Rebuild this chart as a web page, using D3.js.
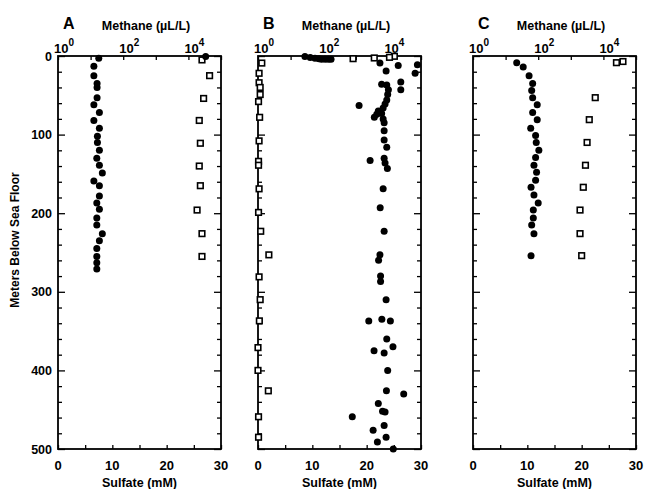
<!DOCTYPE html>
<html><head><meta charset="utf-8">
<script src="https://cdn.jsdelivr.net/npm/d3@7"></script>
<style>
body{margin:0;background:#fff}
svg{display:block}
text{font-family:"Liberation Sans",Arial,Helvetica,sans-serif;font-weight:bold;fill:#000}
</style>
</head><body>
<svg id="chart" width="645" height="489"></svg>
<script>
// ---------- tick labels / categories ----------
const panelLabels = ["A", "B", "C"];
const methaneTicks = [1, 10, 100, 1000, 10000, 100000];
const methaneLabelExponents = [0, 2, 4];
const sulfateTicks = [0, 5, 10, 15, 20, 25, 30];
const sulfateLabels = [0, 10, 20, 30];
const depthTicks = d3.range(0, 501, 20);
const depthLabels = [0, 100, 200, 300, 400, 500];
const methaneTitle = "Methane (\u00B5L/L)";
const sulfateTitle = "Sulfate (mM)";
const depthTitle = "Meters Below Sea Floor";

// ---------- data: [depth (mbsf), value] ----------
// methane in µL/L (filled circles, top log axis)
const methaneA = [[0.5,33900],[3,17.8],[13,12.6],[25,12.6],[35,15.8],[40,15.8],[53,15.8],[62,12.6],[72,18.6],[82,12.6],[92,18.6],[102,16.2],[110,16.2],[120,18.6],[130,15.5],[139,18.6],[149,22.9],[159,12.6],[165,18.6],[178,18.6],[187,15.5],[195,18.6],[206,15.5],[215,15.5],[226,22.9],[235,18.6],[245,15.5],[255,15.5],[263,15.5],[271,15.5]];
// sulfate in mM (open squares, bottom linear axis)
const sulfateA = [[5,26.5],[25,27.9],[54,26.8],[82,26.0],[111,26.2],[140,26.0],[165,26.2],[196,25.6],[226,26.5],[255,26.5]];

const methaneB = [[0.5,27.5],[2,40],[3,56],[3.5,74],[4,89],[4,115],[4,145],[4,174],
 [9,5500],[19,8500],[12,20000],[11,77600],[22,66000],[33,24000],[43,24000],[36,6200],[37,8900],[43,10000],[49,9500],[56,8900],[63,1260],[61,7900],[66,6900],[70,4900],[74,4400],[78,3700],[73,6200],[80,6900],[85,7400],[95,7400],[107,7400],[116,8900],[133,2750],[130,7400],[136,7900],[143,9300],[169,6900],[193,5600],[223,7400],[253,5500],[260,5000],[280,5750],[287,5750],[310,8500],[337,2500],[335,6300],[337,11500],[360,8900],[370,13800],[375,3630],[378,7400],[400,9500],[426,8700],[430,29500],[442,4900],[452,6600],[453,7900],[459,780],[470,7400],[476,3400],[485,8500],[491,4600],[500,14100]];
const sulfateB = [[0.4,25.1],[1.7,24.2],[2.5,21.4],[3.4,17.5],[9,0.7],[22,0.2],[34,0.2],[40,0.4],[49,0.4],[58,0.1],[78,0.3],[108,0.2],[134,0.1],[139,0.1],[169,0.2],[199,0.1],[223,0.5],[253,2.0],[281,0.2],[310,0.4],[337,0.25],[371,0],[400,0],[426,1.9],[459,0.1],[485,0.1]];

const methaneC = [[8.5,21.9],[14,34.7],[25,52.5],[35,67.6],[44,63.1],[53,67.6],[62,93.3],[72,67.6],[81,93.3],[92,58.9],[101,83.2],[110,87.1],[120,104.7],[129,83.2],[139,74.1],[148,89.1],[158,83.2],[167,60.3],[177,74.1],[187,100],[196,70.8],[206,70.8],[215,63.1],[226,74.1],[254,60.3]];
const sulfateC = [[8.5,26.4],[7,27.6],[53,22.5],[81,21.4],[110,21.0],[139,20.7],[167,20.3],[196,19.7],[226,19.7],[254,20.0]];

const methaneSeries = [methaneA, methaneB, methaneC];
const sulfateSeries = [sulfateA, sulfateB, sulfateC];

// ---------- layout ----------
const svg = d3.select("#chart");
const panelLeft = [58, 258, 473];
const pw = 163, plotTop = 56, ph = 393;

const y = d3.scaleLinear().domain([0, 500]).range([plotTop, plotTop + ph]);

panelLabels.forEach((lab, i) => {
  const L = panelLeft[i];
  const xm = d3.scaleLog().domain([1, 100000]).range([L, L + pw]);
  const xs = d3.scaleLinear().domain([0, 30]).range([L, L + pw]);
  const g = svg.append("g");

  const ta = g.append("g").attr("transform", `translate(0,${plotTop})`)
    .call(d3.axisTop(xm).tickValues(methaneTicks).tickSize(-4).tickFormat(""));
  const ba = g.append("g").attr("transform", `translate(0,${plotTop + ph})`)
    .call(d3.axisBottom(xs).tickValues(sulfateTicks).tickSize(-4).tickFormat(""));
  const la = g.append("g").attr("transform", `translate(${L},0)`)
    .call(d3.axisLeft(y).tickValues(depthTicks).tickSize(-4).tickFormat(""));
  const ra = g.append("g").attr("transform", `translate(${L + pw},0)`)
    .call(d3.axisRight(y).tickValues(depthTicks).tickSize(-4).tickFormat(""));
  la.selectAll(".tick line").attr("x2", d => d % 100 === 0 ? 7 : 4);
  ra.selectAll(".tick line").attr("x2", d => d % 100 === 0 ? -7 : -4);
  [ta, ba, la, ra].forEach(a => {
    a.select(".domain").remove();
    a.selectAll(".tick line").attr("stroke", "#000").attr("stroke-width", 1.3);
  });

  g.append("rect").attr("x", L).attr("y", plotTop).attr("width", pw).attr("height", ph)
    .attr("fill", "none").attr("stroke", "#000").attr("stroke-width", 1.8);

  methaneLabelExponents.forEach(e => {
    const t = g.append("text").attr("x", xm(Math.pow(10, e)) + 6).attr("y", 53)
      .attr("text-anchor", "middle").attr("font-size", 13);
    t.append("tspan").text("10");
    t.append("tspan").attr("dy", -7).attr("font-size", 10).text(e);
  });
  sulfateLabels.forEach(v => {
    g.append("text").attr("x", xs(v)).attr("y", 470).attr("text-anchor", "middle")
      .attr("font-size", 13).text(v);
  });
  g.append("text").attr("x", L + 88).attr("y", 30).attr("text-anchor", "middle")
    .attr("font-size", 12.5).text(methaneTitle);
  g.append("text").attr("x", L + pw / 2).attr("y", 487).attr("text-anchor", "middle")
    .attr("font-size", 12.5).text(sulfateTitle);
  g.append("text").attr("x", L + 5).attr("y", 29).attr("font-size", 16).text(lab);

  const sq = 5.6;
  g.selectAll("rect.s").data(sulfateSeries[i]).join("rect").attr("class", "s")
    .attr("x", d => xs(d[1]) - sq / 2).attr("y", d => y(d[0]) - sq / 2)
    .attr("width", sq).attr("height", sq)
    .attr("fill", "#fff").attr("stroke", "#000").attr("stroke-width", 1.6);
  g.selectAll("circle.m").data(methaneSeries[i]).join("circle").attr("class", "m")
    .attr("cx", d => xm(d[1])).attr("cy", d => y(d[0])).attr("r", 3.5).attr("fill", "#000");

  if (i === 0) {
    depthLabels.forEach(v => {
      g.append("text").attr("x", L - 6).attr("y", y(v)).attr("dy", "0.36em")
        .attr("text-anchor", "end").attr("font-size", 12.5).text(v);
    });
    g.append("text").attr("transform", `translate(19,240) rotate(-90)`)
      .attr("text-anchor", "middle").attr("font-size", 12).text(depthTitle);
  }
});
</script>
</body></html>
